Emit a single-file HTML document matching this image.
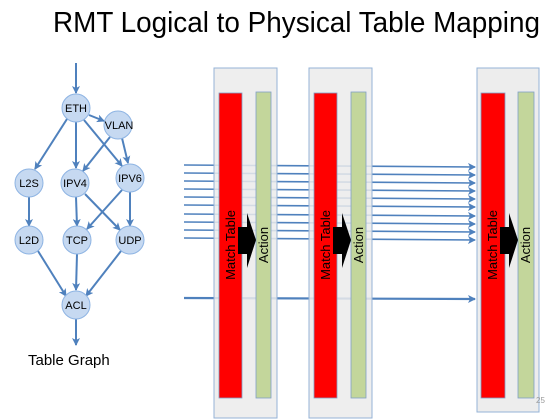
<!DOCTYPE html>
<html><head><meta charset="utf-8"><style>
html,body{margin:0;padding:0;background:#fff;}
svg{display:block;font-family:"Liberation Sans",sans-serif;}
</style></head><body>
<svg width="558" height="420" viewBox="0 0 558 420" xmlns="http://www.w3.org/2000/svg">
<defs>
<marker id="a" markerWidth="8" markerHeight="8" refX="7" refY="4" orient="auto" markerUnits="userSpaceOnUse">
<path d="M0,0 L8,4 L0,8 L2,4 z" fill="#4f81bd"/>
</marker>
</defs>
<text x="53" y="32" font-size="29" textLength="487" lengthAdjust="spacingAndGlyphs" fill="#000">RMT Logical to Physical Table Mapping</text>

<g stroke="#4f81bd" stroke-width="2" fill="none" marker-end="url(#a)">
<line x1="76" y1="63" x2="76" y2="93"/>
<line x1="67" y1="119" x2="35" y2="169"/>
<line x1="76" y1="122" x2="76" y2="168"/>
<line x1="84" y1="120" x2="122" y2="166"/>
<line x1="89" y1="115" x2="104" y2="121"/>
<line x1="110" y1="137" x2="83" y2="171"/>
<line x1="122" y1="138" x2="128" y2="163"/>
<line x1="29" y1="197" x2="29" y2="226"/>
<line x1="76" y1="197" x2="77" y2="226"/>
<line x1="85" y1="194" x2="120" y2="230"/>
<line x1="122" y1="190" x2="87" y2="229"/>
<line x1="130" y1="192" x2="130" y2="226"/>
<line x1="38" y1="251" x2="66" y2="296"/>
<line x1="77" y1="254" x2="76" y2="290"/>
<line x1="121" y1="251" x2="86" y2="296"/>
<line x1="76" y1="319" x2="76" y2="345"/>
</g>
<g fill="#c6d9f1" stroke="#8eb4e3" stroke-width="1">
<circle cx="76" cy="108" r="14"/>
<circle cx="118" cy="125" r="14"/>
<circle cx="29" cy="183" r="14"/>
<circle cx="75" cy="183" r="14"/>
<circle cx="130" cy="178" r="14"/>
<circle cx="29" cy="240" r="14"/>
<circle cx="77" cy="240" r="14"/>
<circle cx="130" cy="240" r="14"/>
<circle cx="76" cy="305" r="14"/>
</g>
<g font-size="11" fill="#000" text-anchor="middle">
<text x="76" y="112">ETH</text>
<text x="119" y="129">VLAN</text>
<text x="29" y="187">L2S</text>
<text x="75" y="187">IPV4</text>
<text x="130" y="182">IPV6</text>
<text x="29" y="244">L2D</text>
<text x="77" y="244">TCP</text>
<text x="130" y="244">UDP</text>
<text x="76" y="309">ACL</text>
</g>
<text x="28" y="365" font-size="15" fill="#000">Table Graph</text>

<g stroke="#4f81bd" stroke-width="1.6" marker-end="url(#a)">
<line x1="184" y1="165" x2="475" y2="167"/>
<line x1="184" y1="173" x2="475" y2="175"/>
<line x1="184" y1="181" x2="475" y2="183"/>
<line x1="184" y1="189" x2="475" y2="191"/>
<line x1="184" y1="197" x2="475" y2="199"/>
<line x1="184" y1="205" x2="475" y2="207"/>
<line x1="184" y1="214" x2="475" y2="216"/>
<line x1="184" y1="222" x2="475" y2="224"/>
<line x1="184" y1="230" x2="475" y2="232"/>
<line x1="184" y1="238" x2="475" y2="240"/>
<line x1="184" y1="298" x2="475" y2="299" stroke-width="2.2"/>
</g>

<g>
<rect x="214" y="68" width="63" height="350" fill="#ebebeb" fill-opacity="0.85" stroke="#95b3d7"/>
<rect x="309" y="68" width="63" height="350" fill="#ebebeb" fill-opacity="0.85" stroke="#95b3d7"/>
<rect x="477" y="68" width="62" height="344" fill="#ebebeb" fill-opacity="0.9" stroke="#95b3d7"/>
</g>
<g stroke="#7f9fc7" stroke-width="0.8">
<rect x="219" y="93" width="23" height="305" fill="#ff0000"/>
<rect x="256" y="92" width="15" height="306" fill="#c3d69b"/>
<rect x="314" y="93" width="23" height="305" fill="#ff0000"/>
<rect x="351" y="92" width="15" height="306" fill="#c3d69b"/>
<rect x="481" y="93" width="24" height="305" fill="#ff0000"/>
<rect x="518" y="92" width="16" height="306" fill="#c3d69b"/>
</g>
<g fill="#000">
<path d="M238,227 h9 v-14 l9,27 l-9,28 v-14 h-9 z"/>
<path d="M333,227 h9 v-14 l9,27 l-9,28 v-14 h-9 z"/>
<path d="M500,227 h9 v-14 l9,27 l-9,28 v-14 h-9 z"/>
</g>
<g font-size="13" fill="#000" text-anchor="middle">
<text transform="translate(235,245) rotate(-90)">Match Table</text>
<text transform="translate(268,245) rotate(-90)">Action</text>
<text transform="translate(330,245) rotate(-90)">Match Table</text>
<text transform="translate(363,245) rotate(-90)">Action</text>
<text transform="translate(497,245) rotate(-90)">Match Table</text>
<text transform="translate(530,245) rotate(-90)">Action</text>
</g>
<text x="536" y="403" font-size="8" fill="#999">25</text>
</svg>
</body></html>
